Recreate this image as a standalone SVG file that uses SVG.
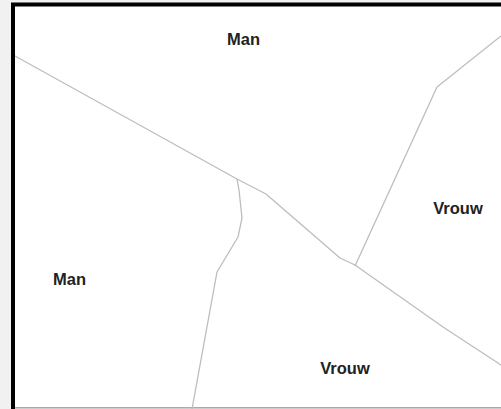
<svg xmlns="http://www.w3.org/2000/svg" width="501" height="409" viewBox="0 0 501 409">
<style>
.lbl{font-family:"Liberation Sans",Arial,sans-serif;font-weight:bold;font-size:16.5px;fill:#222;text-anchor:middle}
.edge{fill:none;stroke:#bdbdbd;stroke-width:1.3;stroke-linejoin:round}
</style>
<rect x="0" y="0" width="501" height="409" fill="#f1f1f1"/>
<rect x="13" y="4.5" width="490" height="403" fill="#fff"/>
<line x1="15" y1="407.8" x2="501" y2="407.8" stroke="#aaa" stroke-width="1.5"/>
<g id="connectors">
<polyline class="edge" points="15,56 237,179 266,194 340,258 355,265 443,327 501,365"/>
<polyline class="edge" points="237,179 239,190 242,218 238,237 217,272 192,409"/>
<polyline class="edge" points="355,266 437,87 501,36"/>
</g>
<g id="n-man-top"><text class="lbl" x="243.5" y="44.5">Man</text></g>
<g id="n-vrouw-right"><text class="lbl" x="458" y="213.5">Vrouw</text></g>
<g id="n-man-left"><text class="lbl" x="69.5" y="285">Man</text></g>
<g id="n-vrouw-bottom"><text class="lbl" x="345" y="374">Vrouw</text></g>
<path d="M13 409 V4.5 H501" fill="none" stroke="#000" stroke-width="4"/>
</svg>
